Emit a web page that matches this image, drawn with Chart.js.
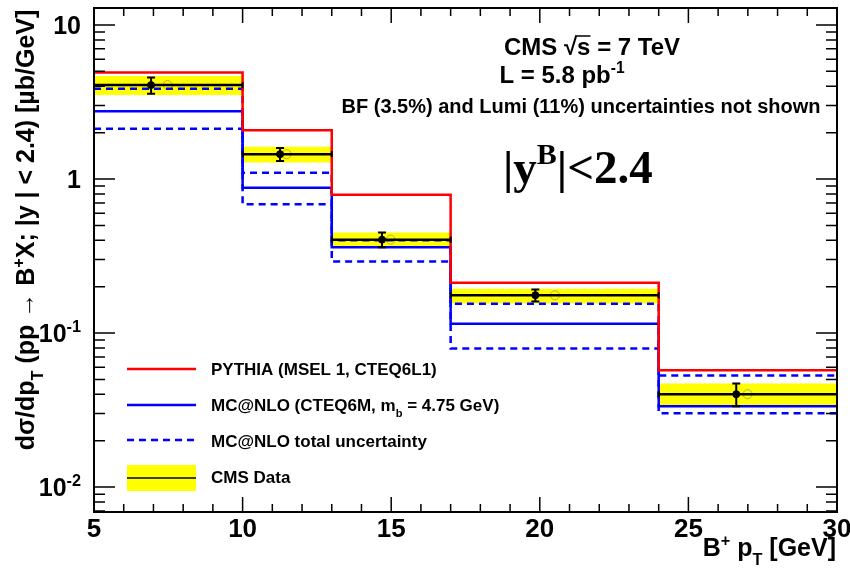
<!DOCTYPE html>
<html>
<head>
<meta charset="utf-8">
<script src="https://cdn.jsdelivr.net/npm/chart.js@4.4.1/dist/chart.umd.min.js"></script>
<style>
  html, body { margin: 0; padding: 0; background: #fff; }
</style>
</head>
<body>
<canvas id="bplusChart" width="850" height="574"></canvas>
<script>
// bin edges in B+ pT [GeV]
const binEdges = [5, 10, 13, 17, 24, 30];

// theory predictions per bin [ub/GeV]
const pythia = [4.91, 2.07, 0.79, 0.212, 0.0573];
const mcatnlo = [2.75, 0.877, 0.36, 0.115, 0.0335];
const mcatnloUp = [3.86, 1.10, 0.40, 0.155, 0.0531];
const mcatnloDown = [2.12, 0.687, 0.291, 0.0794, 0.0302];

// CMS data points + uncertainties
const dataX = [6.92, 11.26, 14.69, 19.85, 26.61];
const dataY = [4.07, 1.45, 0.404, 0.176, 0.0401];
const statLow = [3.58, 1.31, 0.36, 0.160, 0.0335];
const statHigh = [4.56, 1.59, 0.45, 0.192, 0.047];
const systLow = [3.51, 1.28, 0.366, 0.156, 0.0337];
const systHigh = [4.66, 1.62, 0.45, 0.194, 0.0471];
const meanX = [7.48, 11.48, 14.98, 20.51, 26.99];

// axis ticks
const xTicks = [5, 10, 15, 20, 25, 30];
const yTicks = [10, 1, 0.1, 0.01];
const yTickLabels = [['10', ''], ['1', ''], ['10', '-1'], ['10', '-2']];

const FONT = '"Liberation Sans", Arial, Helvetica, sans-serif';

// histogram style step points: value of bin i starts at edge i
function steps(vals) {
    return binEdges.map((x, i) => ({ x: x, y: vals[Math.min(i, vals.length - 1)] }));
}

// horizontal segments with gaps between bins
function segments(vals) {
    const pts = [];
    vals.forEach((v, i) => {
        pts.push({ x: binEdges[i], y: v });
        pts.push({ x: binEdges[i + 1], y: v });
        pts.push({ x: binEdges[i + 1], y: null });
    });
    return pts;
}

// text with sub/superscripts, parts = [[text, ''|'sup'|'sub'], ...]
function drawRich(ctx, parts, x, y, size, align) {
    const sz = p => p[1] ? size * 0.65 : size;
    let w = 0;
    parts.forEach(p => {
        ctx.font = 'bold ' + sz(p) + 'px ' + FONT;
        w += ctx.measureText(p[0]).width;
    });
    let cx = align === 'right' ? x - w : (align === 'center' ? x - w / 2 : x);
    ctx.textAlign = 'left';
    ctx.textBaseline = 'alphabetic';
    parts.forEach(p => {
        ctx.font = 'bold ' + sz(p) + 'px ' + FONT;
        const dy = p[1] === 'sup' ? -size * 0.42 : (p[1] === 'sub' ? size * 0.36 : 0);
        ctx.fillText(p[0], cx, y + dy);
        cx += ctx.measureText(p[0]).width;
    });
    return w;
}

const rootStyle = {
    id: 'rootStyle',
    afterDatasetsDraw(chart) {
        const ctx = chart.ctx;
        const xs = chart.scales.x, ys = chart.scales.y;
        ctx.save();
        ctx.strokeStyle = '#000';
        ctx.lineWidth = 2;
        // stat error bars
        dataX.forEach((x, i) => {
            const px = xs.getPixelForValue(x);
            const y1 = ys.getPixelForValue(statLow[i]);
            const y2 = ys.getPixelForValue(statHigh[i]);
            ctx.beginPath();
            ctx.moveTo(px, y1); ctx.lineTo(px, y2);
            ctx.moveTo(px - 4, y1); ctx.lineTo(px + 4, y1);
            ctx.moveTo(px - 4, y2); ctx.lineTo(px + 4, y2);
            ctx.stroke();
        });
        // small end caps of the data x-ranges
        dataY.forEach((v, i) => {
            const py = ys.getPixelForValue(v);
            [binEdges[i], binEdges[i + 1]].forEach(e => {
                const px = xs.getPixelForValue(e);
                ctx.beginPath();
                ctx.moveTo(px, py - 3); ctx.lineTo(px, py + 3);
                ctx.stroke();
            });
        });
        ctx.restore();
    },
    afterDraw(chart) {
        const ctx = chart.ctx;
        const a = chart.chartArea;
        const xs = chart.scales.x, ys = chart.scales.y;
        ctx.save();
        ctx.fillStyle = '#000';
        ctx.strokeStyle = '#000';

        // ticks, inward on all four sides
        ctx.lineWidth = 1.5;
        ctx.beginPath();
        for (let v = 5; v <= 30; v++) {
            const px = xs.getPixelForValue(v);
            const len = v % 5 === 0 ? 15 : 8;
            ctx.moveTo(px, a.bottom); ctx.lineTo(px, a.bottom - len);
            ctx.moveTo(px, a.top); ctx.lineTo(px, a.top + len);
        }
        for (let e = -3; e <= 1; e++) {
            for (let m = 1; m <= 9; m++) {
                const v = m * Math.pow(10, e);
                if (v < ys.min || v > ys.max) continue;
                const py = ys.getPixelForValue(v);
                const len = m === 1 ? 21 : 11;
                ctx.moveTo(a.left, py); ctx.lineTo(a.left + len, py);
                ctx.moveTo(a.right, py); ctx.lineTo(a.right - len, py);
            }
        }
        ctx.stroke();

        // frame
        ctx.lineWidth = 2;
        ctx.strokeRect(a.left, a.top, a.right - a.left, a.bottom - a.top);

        // tick labels
        xTicks.forEach(v => {
            ctx.font = 'bold 26px ' + FONT;
            ctx.textAlign = 'center';
            ctx.textBaseline = 'alphabetic';
            ctx.fillText(String(v), xs.getPixelForValue(v), 537);
        });
        yTicks.forEach((v, i) => {
            const lab = yTickLabels[i];
            const parts = [[lab[0], '']];
            if (lab[1]) parts.push([lab[1], 'sup']);
            drawRich(ctx, parts, 81, ys.getPixelForValue(v) + 9, 25, 'right');
        });

        // axis titles
        drawRich(ctx, [['B', ''], ['+', 'sup'], [' p', ''], ['T', 'sub'], [' [GeV]', '']], 836, 556, 25, 'right');
        ctx.save();
        ctx.translate(34, 230);
        ctx.rotate(-Math.PI / 2);
        drawRich(ctx, [['d\u03c3/dp', ''], ['T', 'sub'], [' (pp \u2192 B', ''], ['+', 'sup'],
            ['X; |y | < 2.4) [\u00b5b/GeV]', '']], 0, 0, 25, 'center');
        ctx.restore();

        // annotations
        const w1 = drawRich(ctx, [['CMS \u221a', ''], ['s', ''], [' = 7 TeV', '']], 592, 55, 24, 'center');
        ctx.font = 'bold 24px ' + FONT;
        const sx = 592 - w1 / 2 + ctx.measureText('CMS \u221a').width;
        ctx.lineWidth = 1.5;
        ctx.beginPath();
        ctx.moveTo(sx - 2, 36); ctx.lineTo(sx + ctx.measureText('s').width, 36);
        ctx.stroke();
        drawRich(ctx, [['L = 5.8 pb', ''], ['-1', 'sup']], 562, 83, 24, 'center');
        drawRich(ctx, [['BF (3.5%) and Lumi (11%) uncertainties not shown', '']], 581, 113, 20, 'center');
        ctx.font = 'bold 47px "Liberation Serif", "Times New Roman", serif';
        ctx.textAlign = 'left';
        ctx.fillText('|y', 503, 183);
        let tx = 503 + ctx.measureText('|y').width;
        ctx.font = 'bold 30px "Liberation Serif", "Times New Roman", serif';
        ctx.fillText('B', tx, 164);
        tx += ctx.measureText('B').width;
        ctx.font = 'bold 47px "Liberation Serif", "Times New Roman", serif';
        ctx.fillText('|<2.4', tx, 183);

        // legend
        const lx1 = 127, lx2 = 196, tx0 = 211;
        ctx.lineWidth = 2.5;
        ctx.strokeStyle = '#ff0000';
        ctx.beginPath(); ctx.moveTo(lx1, 369); ctx.lineTo(lx2, 369); ctx.stroke();
        ctx.strokeStyle = '#0000ff';
        ctx.beginPath(); ctx.moveTo(lx1, 405); ctx.lineTo(lx2, 405); ctx.stroke();
        ctx.setLineDash([7, 5]);
        ctx.beginPath(); ctx.moveTo(lx1, 440); ctx.lineTo(lx2, 440); ctx.stroke();
        ctx.setLineDash([]);
        ctx.fillStyle = '#ffff00';
        ctx.fillRect(lx1, 465, lx2 - lx1, 26);
        ctx.strokeStyle = '#000';
        ctx.lineWidth = 1.5;
        ctx.beginPath(); ctx.moveTo(lx1, 478); ctx.lineTo(lx2, 478); ctx.stroke();
        ctx.fillStyle = '#000';
        drawRich(ctx, [['PYTHIA (MSEL 1, CTEQ6L1)', '']], tx0, 375, 17, 'left');
        drawRich(ctx, [['MC@NLO (CTEQ6M, m', ''], ['b', 'sub'], [' = 4.75 GeV)', '']], tx0, 411, 17, 'left');
        drawRich(ctx, [['MC@NLO total uncertainty', '']], tx0, 447, 17, 'left');
        drawRich(ctx, [['CMS Data', '']], tx0, 483, 17, 'left');
        ctx.restore();
    }
};

const ctx = document.getElementById('bplusChart').getContext('2d');

new Chart(ctx, {
    type: 'line',
    data: {
        datasets: [
            {
                // lower edge of syst band
                data: steps(systLow),
                stepped: 'before',
                borderWidth: 0,
                pointRadius: 0,
                fill: false,
                order: 10
            },
            {
                // upper edge of syst band, filled down to the lower edge
                data: steps(systHigh),
                stepped: 'before',
                borderWidth: 0,
                pointRadius: 0,
                backgroundColor: '#ffff00',
                fill: '-1',
                order: 9
            },
            {
                data: meanX.map((x, i) => ({ x: x, y: dataY[i] })),
                showLine: false,
                pointRadius: 4.5,
                pointBorderWidth: 1,
                pointBorderColor: 'rgba(160,150,70,0.75)',
                pointBackgroundColor: 'rgba(0,0,0,0)',
                order: 8
            },
            {
                data: steps(mcatnloDown),
                stepped: 'before',
                borderColor: '#0000ff',
                borderWidth: 2.5,
                borderDash: [7, 5],
                pointRadius: 0,
                fill: false,
                order: 7
            },
            {
                data: steps(mcatnloUp),
                stepped: 'before',
                borderColor: '#0000ff',
                borderWidth: 2.5,
                borderDash: [7, 5],
                pointRadius: 0,
                fill: false,
                order: 6
            },
            {
                data: steps(mcatnlo),
                stepped: 'before',
                borderColor: '#0000ff',
                borderWidth: 2.5,
                pointRadius: 0,
                fill: false,
                order: 5
            },
            {
                data: steps(pythia),
                stepped: 'before',
                borderColor: '#ff0000',
                borderWidth: 2.5,
                pointRadius: 0,
                fill: false,
                order: 4
            },
            {
                data: segments(dataY),
                borderColor: '#000000',
                borderWidth: 2.5,
                pointRadius: 0,
                spanGaps: false,
                fill: false,
                order: 3
            },
            {
                data: dataX.map((x, i) => ({ x: x, y: dataY[i] })),
                showLine: false,
                pointRadius: 3.5,
                pointBackgroundColor: '#000',
                pointBorderColor: '#000',
                order: 2
            }
        ]
    },
    options: {
        responsive: false,
        animation: false,
        layout: { padding: { left: 94, top: 8, right: 13, bottom: 62 } },
        plugins: {
            legend: { display: false },
            tooltip: { enabled: false }
        },
        scales: {
            x: { type: 'linear', min: 5, max: 30, display: false },
            y: { type: 'logarithmic', min: 0.00689, max: 12.89, display: false }
        }
    },
    plugins: [rootStyle]
});
</script>
</body>
</html>
